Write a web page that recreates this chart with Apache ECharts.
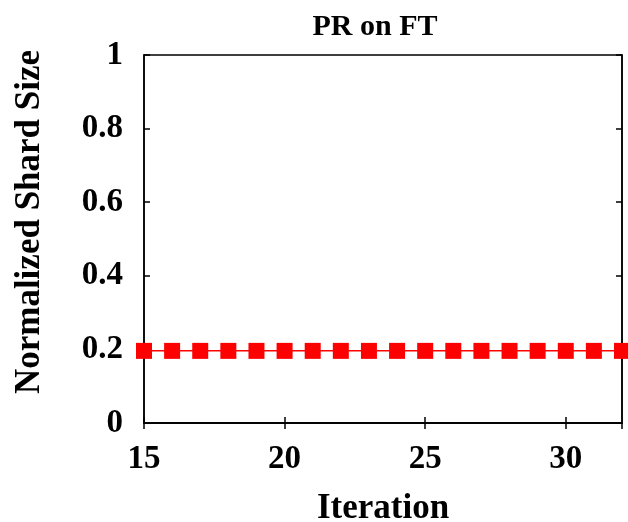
<!DOCTYPE html>
<html><head><meta charset="utf-8">
<script src="https://cdn.jsdelivr.net/npm/echarts@6/dist/echarts.min.js"></script>
<style>html,body{margin:0;padding:0;background:#fff}#c{width:628px;height:522px}</style>
</head><body><div id="c"></div>
<script>
var iterations = [15,16,17,18,19,20,21,22,23,24,25,26,27,28,29,30,31,32];
var shardSize = [0.196,0.196,0.196,0.196,0.196,0.196,0.196,0.196,0.196,0.196,0.196,0.196,0.196,0.196,0.196,0.196,0.196,0.196];
var titleText = 'PR on FT';
var xName = 'Iteration';
var yName = 'Normalized Shard Size';

var FONT = 'Liberation Serif';
var chart = echarts.init(document.getElementById('c'));
var data = iterations.map(function(x,i){return [x, shardSize[i]];});
var tickStyle = {show:true, inside:true, length:6, lineStyle:{color:'#000', width:1.5}};
chart.setOption({
  animation:false,
  backgroundColor:'#fff',
  title:{text:titleText, left:370, top:7, textAlign:'center',
    textStyle:{fontFamily:FONT, fontWeight:'bold', fontSize:30, color:'#000'}},
  grid:{left:144, right:6, top:55, bottom:99, show:true, borderColor:'#000', borderWidth:1.5,
    outerBoundsMode:'none', containLabel:false},
  xAxis:[{type:'value', min:15, max:32, interval:5, position:'bottom',
    axisLine:{show:true, lineStyle:{color:'#000', width:1.5}},
    axisTick:tickStyle, splitLine:{show:false},
    axisLabel:{fontFamily:FONT, fontWeight:'bold', fontSize:33, color:'#000', margin:20, showMaxLabel:false},
    name:xName, nameLocation:'middle', nameGap:68,
    nameTextStyle:{fontFamily:FONT, fontWeight:'bold', fontSize:35, color:'#000'}},
   {type:'value', min:15, max:32, interval:5, position:'top',
    axisLine:{show:true, lineStyle:{color:'#000', width:1.5}},
    axisTick:tickStyle, axisLabel:{show:false}, splitLine:{show:false}}],
  yAxis:[{type:'value', min:0, max:1, interval:0.2, position:'left',
    axisLine:{show:true, lineStyle:{color:'#000', width:1.5}},
    axisTick:tickStyle, splitLine:{show:false},
    axisLabel:{fontFamily:FONT, fontWeight:'bold', fontSize:33, color:'#000', margin:21,
      formatter:function(v){return String(+v.toFixed(1));}},
    name:yName, nameLocation:'middle', nameGap:97,
    nameTextStyle:{fontFamily:FONT, fontWeight:'bold', fontSize:35, color:'#000', padding:[0,0,0,34]}},
   {type:'value', min:0, max:1, interval:0.2, position:'right',
    axisLine:{show:true, lineStyle:{color:'#000', width:1.5}},
    axisTick:tickStyle, axisLabel:{show:false}, splitLine:{show:false}}],
  series:[{type:'line', data:data, xAxisIndex:0, yAxisIndex:0,
    symbol:'rect', symbolSize:16, showAllSymbol:true, clip:false,
    lineStyle:{color:'#ff0000', width:1.5}, itemStyle:{color:'#ff0000'}}]
});
</script></body></html>
